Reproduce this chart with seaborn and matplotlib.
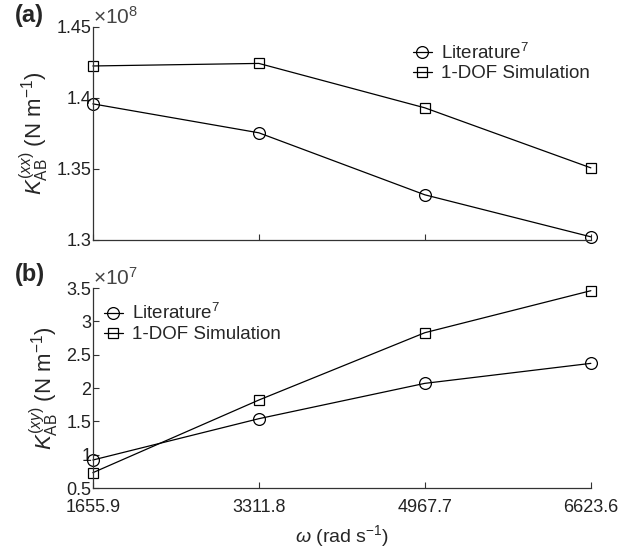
import numpy as np
import pandas as pd
import seaborn as sns
import matplotlib
matplotlib.use("Agg")
import matplotlib.pyplot as plt
from matplotlib.ticker import FuncFormatter

# data
omega = [1655.9, 3311.8, 4967.7, 6623.6]
kxx_literature = [1.3958e8, 1.3754e8, 1.3317e8, 1.3021e8]
kxx_simulation = [1.4225e8, 1.4243e8, 1.3930e8, 1.3507e8]
kxy_literature = [0.92e7, 1.54e7, 2.07e7, 2.37e7]
kxy_simulation = [0.73e7, 1.82e7, 2.83e7, 3.46e7]

sns.set_style("white")
plt.rcParams['font.family'] = ['Liberation Sans', 'DejaVu Sans']
plt.rcParams['mathtext.fontset'] = 'custom'
plt.rcParams['mathtext.rm'] = 'Liberation Sans'
plt.rcParams['mathtext.it'] = 'Liberation Sans:italic'
plt.rcParams['font.size'] = 13

fig = plt.figure(figsize=(6.36, 5.5), dpi=100)
ax_a = fig.add_axes([0.146, 0.564, 0.783, 0.387])
ax_b = fig.add_axes([0.146, 0.1127, 0.783, 0.3636])


def draw_panel(ax, lit, sim, scale, ylim, yticks, ylabel, legend_anchor):
    df_lit = pd.DataFrame({'omega': omega, 'K': lit})
    df_sim = pd.DataFrame({'omega': omega, 'K': sim})
    sns.lineplot(data=df_lit, x='omega', y='K', ax=ax, color='black', lw=0.9,
                 marker='o', ms=8.5, mfc='none', mec='black', mew=0.9,
                 label='Literature$^{7}$', clip_on=False)
    sns.lineplot(data=df_sim, x='omega', y='K', ax=ax, color='black', lw=0.9,
                 marker='s', ms=7, mfc='none', mec='black', mew=0.9,
                 label='1-DOF Simulation', clip_on=False)
    ax.set_xlim(omega[0], omega[-1])
    ax.set_xticks(omega)
    ax.set_ylim(ylim)
    ax.set_yticks(yticks)
    ax.yaxis.set_major_formatter(FuncFormatter(lambda v, p: '%g' % round(v / scale, 4)))
    ax.set_ylabel(ylabel, fontsize=16, labelpad=4)
    ax.text(0.0, 0.995, r'$\times$10$^{%d}$' % int(np.log10(scale)), transform=ax.transAxes,
            ha='left', va='bottom', fontsize=15, color='#444444')
    for side in ['top', 'right']:
        ax.spines[side].set_visible(False)
    for side in ['left', 'bottom']:
        ax.spines[side].set_color('#333333')
        ax.spines[side].set_linewidth(0.9)
    ax.tick_params(direction='in', length=4, width=0.8, color='#333333',
                   labelcolor='#222222', left=True, bottom=True)
    ax.tick_params(axis='y', pad=1)
    ax.tick_params(axis='x', pad=8)
    ax.legend(loc='upper left', bbox_to_anchor=legend_anchor, frameon=False,
              handlelength=1.0, handletextpad=0.5, labelspacing=0.15,
              borderaxespad=0.2, fontsize=13.5)


draw_panel(ax_a, kxx_literature, kxx_simulation, 1e8, (1.3e8, 1.45e8),
           [1.3e8, 1.35e8, 1.4e8, 1.45e8],
           r'$K_{\mathrm{AB}}^{(xx)}$ (N m$^{-1}$)', (0.62, 0.98))
ax_a.set_xlabel('')
ax_a.tick_params(labelbottom=False)

draw_panel(ax_b, kxy_literature, kxy_simulation, 1e7, (0.5e7, 3.5e7),
           [0.5e7, 1e7, 1.5e7, 2e7, 2.5e7, 3e7, 3.5e7],
           r'$K_{\mathrm{AB}}^{(xy)}$ (N m$^{-1}$)', (0.0, 0.98))
ax_b.set_xticklabels(['1655.9', '3311.8', '4967.7', '6623.6'])
ax_b.set_xlabel(r'$\omega$ (rad s$^{-1}$)', fontsize=14, labelpad=5)

fig.text(0.024, 0.972, '(a)', fontsize=17, ha='left', va='center', weight='semibold')
fig.text(0.024, 0.5, '(b)', fontsize=17, ha='left', va='center', weight='semibold')

fig.savefig('out.png', dpi=100)
